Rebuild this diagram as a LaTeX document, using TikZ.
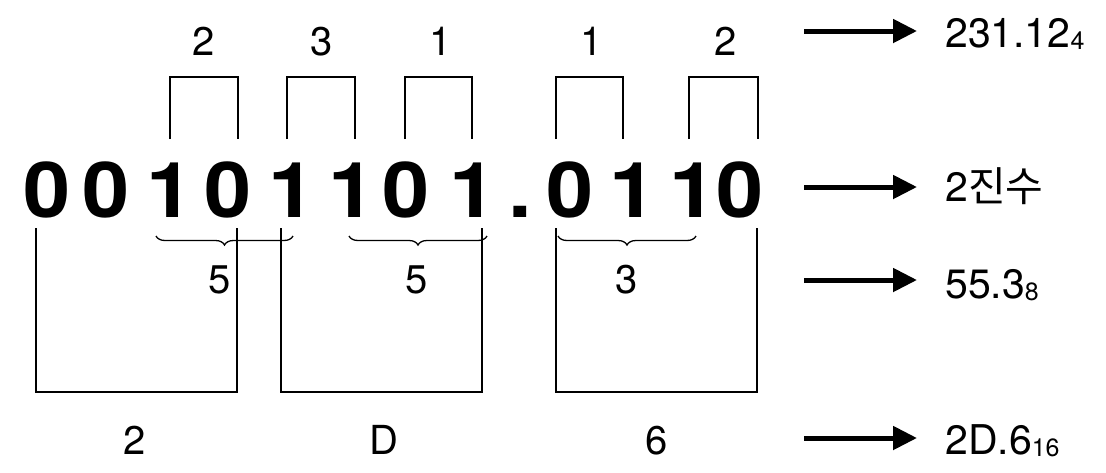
\documentclass[tikz,border=0pt]{standalone}
\usepackage{fontspec}
\setmainfont{TeX Gyre Heros}
\newfontfamily\kofont{Noto Sans CJK KR}
\usetikzlibrary{arrows.meta,decorations.pathreplacing}
\begin{document}
\begin{tikzpicture}[x=1pt,y=-1pt,
  bigdigit/.style={inner sep=0pt,font=\fontsize{77}{80}\selectfont\bfseries},
  lab/.style={inner sep=0pt,anchor=base,font=\fontsize{40}{44}\selectfont},
  rlab/.style={inner sep=0pt,anchor=base west,font=\fontsize{41}{44}\selectfont},
  thinline/.style={line width=2pt},
  bracebox/.style={line width=1.3pt,decorate,decoration={brace,mirror,amplitude=9pt}},
  arr/.style={line width=5pt,-{Triangle[length=24pt,width=23pt]}}]
\useasboundingbox (0,0) rectangle (1106,472);
\fill[white] (0,0) rectangle (1106,472);
% binary digits
\foreach \n/\x/\t in {d1/47/0,d2/106/0,d3/170/1,d4/228/0,d5/292/1,d6/352/1,d7/406/0,d8/473/1,dp/520/.,d9/570/0,d10/633/1,d11/693/1,d12/740/0}
  \node[bigdigit,anchor=base] (\n) at (\x,217) {\scalebox{1.1}[1]{\t}};
% top brackets
\foreach \a/\b in {170/238,287/355,405/472,556/623,689/758}
  \draw[thinline] (\a,139) -- (\a,77) -- (\b,77) -- (\b,139);
% top labels
\node[lab] (t1) at (204,55) {2};
\node[lab] (t2) at (322,55) {3};
\node[lab] (t3) at (441,55) {1};
\node[lab] (t4) at (592,55) {1};
\node[lab] (t5) at (726,55) {2};
% lower open boxes
\foreach \a/\b in {36/237,281/482,556/757}
  \draw[thinline] (\a,228) -- (\a,392) -- (\b,392) -- (\b,228);
% braces
\coordinate (b1s) at (156,236); \coordinate (b1e) at (293,236);
\coordinate (b2s) at (349,236); \coordinate (b2e) at (487,236);
\coordinate (b3s) at (558,236); \coordinate (b3e) at (696,236);
\draw[bracebox] (b1s) -- (b1e);
\draw[bracebox] (b2s) -- (b2e);
\draw[bracebox] (b3s) -- (b3e);
\node[lab] (o1) at (220,293) {5};
\node[lab] (o2) at (417,293) {5};
\node[lab] (o3) at (627,293) {3};
% bottom labels
\node[lab] (h1) at (135,454) {2};
\node[lab] (h2) at (384,454) {D};
\node[lab] (h3) at (657,454) {6};
% arrows
\foreach \i/\y in {1/31,2/187,3/280,4/438}{
  \coordinate (as\i) at (804,\y);
  \coordinate (ae\i) at (917,\y);
  \draw[arr] (as\i) -- (ae\i);
}
% right labels
\node[rlab] (r1) at (945,47) {231.12{\fontsize{25}{26}\selectfont\raisebox{-2pt}{4}}};
\node[rlab] (r2) at (945,201) {2{\kofont 진수}};
\node[rlab] (r3) at (945,298) {55.3{\fontsize{25}{26}\selectfont\raisebox{-2pt}{8}}};
\node[rlab] (r4) at (945,454) {2D.6{\fontsize{25}{26}\selectfont\raisebox{-2pt}{16}}};
\end{tikzpicture}
\end{document}
